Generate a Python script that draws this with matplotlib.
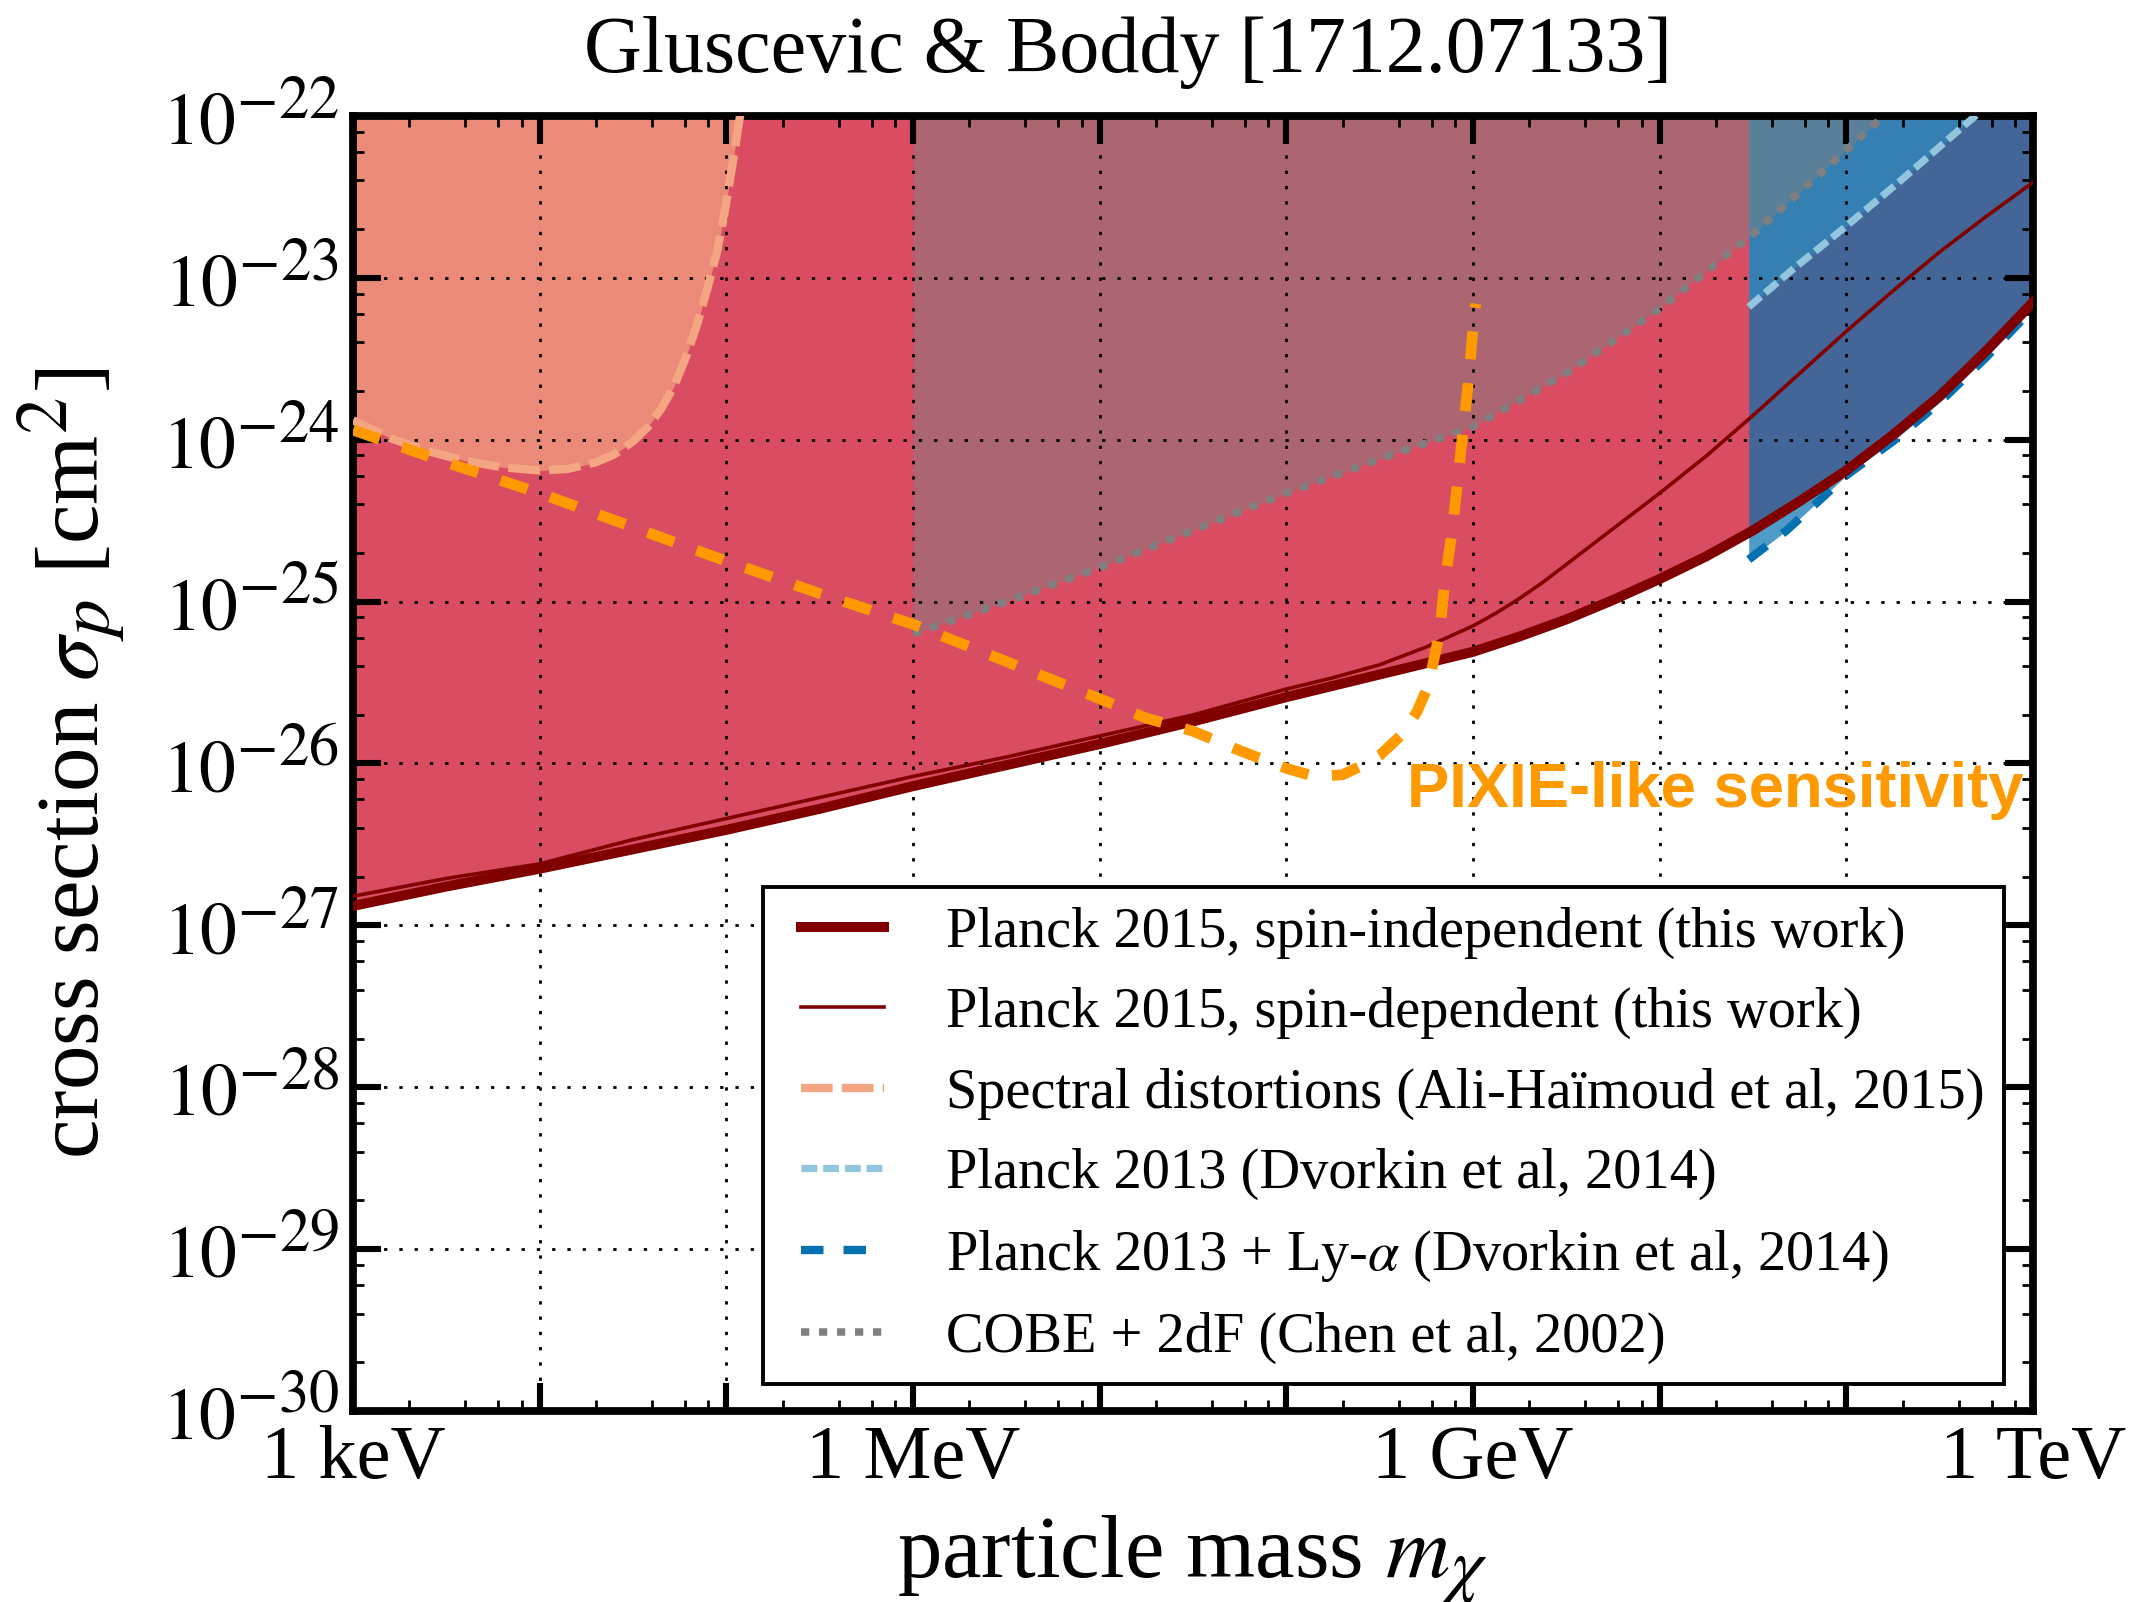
import numpy as np
import matplotlib
matplotlib.use("Agg")
import matplotlib.pyplot as plt
import matplotlib._mathtext as _mt
from matplotlib.lines import Line2D
from matplotlib.legend_handler import HandlerLine2D
from matplotlib.ticker import FixedLocator, FixedFormatter, LogLocator, NullFormatter

plt.rcParams['font.family'] = ['Liberation Serif', 'DejaVu Serif']
plt.rcParams['mathtext.fontset'] = 'stix'
# slightly larger sub/superscripts than the mathtext default
_mt.SHRINK_FACTOR = 0.82

# all curves: log10(m / GeV) vs log10(sigma_p / cm^2)

# Planck 2015, spin-independent
si_logm = [-6.0, -5.5, -5.0, -4.5, -4.0, -3.5, -3.0, -2.5, -2.0, -1.5, -1.0, -0.5,
           0.0, 0.25, 0.5, 0.75, 1.0, 1.25, 1.5, 1.75, 2.0, 2.25, 2.5, 2.75, 3.0]
si_logsig = [-26.88, -26.76, -26.65, -26.53, -26.41, -26.28, -26.14, -26.01, -25.88, -25.74,
             -25.59, -25.45, -25.31, -25.215, -25.11, -24.99, -24.86, -24.72, -24.56, -24.38,
             -24.19, -23.97, -23.73, -23.45, -23.15]

# Planck 2015, spin-dependent
sd_logm = [-6.0, -5.5, -5.0, -4.5, -4.0, -3.5, -3.0, -2.5, -2.0, -1.5, -1.0, -0.75, -0.5,
           -0.25, 0.0, 0.125, 0.25, 0.375, 0.5, 0.75, 1.0, 1.25, 1.5, 1.75, 2.0, 2.25, 2.5,
           2.75, 3.0]
sd_logsig = [-26.82, -26.71, -26.62, -26.47, -26.34, -26.21, -26.08, -25.96, -25.83, -25.70,
             -25.54, -25.47, -25.39, -25.28, -25.15, -25.07, -24.98, -24.88, -24.77, -24.55,
             -24.33, -24.10, -23.85, -23.59, -23.33, -23.08, -22.84, -22.62, -22.41]

# spectral distortions (Ali-Haimoud et al 2015)
spec_logm = [-6.0, -5.8, -5.6, -5.4, -5.2, -5.0, -4.85, -4.7, -4.6, -4.5, -4.42, -4.35,
             -4.28, -4.22, -4.16, -4.10, -4.05, -4.01, -3.97, -3.94, -3.92]
spec_logsig = [-23.88, -23.99, -24.07, -24.13, -24.17, -24.19, -24.18, -24.14, -24.09, -24.01,
               -23.92, -23.81, -23.67, -23.50, -23.30, -23.06, -22.84, -22.60, -22.32, -22.10, -21.95]

# Planck 2013 (Dvorkin et al 2014)
p13_logm = [1.477, 1.7, 2.0, 2.29, 2.65, 3.0]
p13_logsig = [-23.18, -22.96, -22.68, -22.40, -22.04, -21.70]

# Planck 2013 + Ly-alpha (Dvorkin et al 2014)
lya_logm = [1.477, 1.68, 1.87, 2.0, 2.25, 2.5, 2.75, 3.0]
lya_logsig = [-24.74, -24.56, -24.36, -24.22, -24.01, -23.77, -23.49, -23.19]

# COBE + 2dF (Chen et al 2002)
cobe_logm = [-3.0, -2.5, -2.0, -1.5, -1.0, -0.5, 0.0, 0.5, 1.0, 1.5, 2.0, 2.2]
cobe_logsig = [-25.20, -25.00, -24.79, -24.56, -24.33, -24.12, -23.92, -23.59, -23.19,
               -22.73, -22.21, -22.0]

# PIXIE-like sensitivity forecast
pixie_logm = [-6.0, -5.5, -5.0, -4.5, -4.0, -3.5, -3.0, -2.5, -2.0, -1.75, -1.5, -1.25,
              -1.0, -0.85, -0.7, -0.59, -0.5, -0.38, -0.3, -0.24, -0.18, -0.15, -0.11,
              -0.08, -0.05, -0.02, 0.005, 0.015]
pixie_logsig = [-23.94, -24.14, -24.33, -24.54, -24.75, -24.95, -25.14, -25.37, -25.60, -25.72,
                -25.80, -25.92, -26.03, -26.08, -26.07, -26.01, -25.95, -25.82, -25.68, -25.52,
                -25.20, -24.87, -24.55, -24.23, -23.91, -23.59, -23.24, -23.16]

x_ticklabels = ['1 keV', '', '', '1 MeV', '', '', '1 GeV', '', '', '1 TeV']
y_exponents = list(range(-30, -21))

c_red = '#ca0020'
c_salmon = '#f4a582'
c_lightblue = '#92c5de'
c_blue = '#0571b0'
c_maroon = '#800000'
c_orange = '#ff9900'


def p10(v):
    return 10.0 ** np.asarray(v)


fig = plt.figure(figsize=(10.745, 8.01), dpi=200)
ax = fig.add_axes([0.16426, 0.11923, 0.78176, 0.80836])
ax.set_xscale('log')
ax.set_yscale('log')
top = 1e-22

# excluded regions
ax.fill_between(p10(si_logm), p10(si_logsig), top, color=c_red, alpha=0.7, lw=0, zorder=1.0)
ax.fill_between(p10(spec_logm), p10(spec_logsig), top, color=c_salmon, alpha=0.7, lw=0, zorder=1.1)
ax.fill_between(p10(p13_logm), p10(p13_logsig), top, color=c_lightblue, alpha=0.7, lw=0, zorder=1.2)
ax.fill_between(p10(lya_logm), p10(lya_logsig), top, color=c_blue, alpha=0.7, lw=0, zorder=1.3)
ax.fill_between(p10(cobe_logm), p10(cobe_logsig), top, color='gray', alpha=0.5, lw=0, zorder=1.4)

# boundaries
h_si, = ax.plot(p10(si_logm), p10(si_logsig), color=c_maroon, lw=3.6, zorder=4,
                label='Planck 2015, spin-independent (this work)')
h_sd, = ax.plot(p10(sd_logm), p10(sd_logsig), color=c_maroon, lw=1.3, zorder=4,
                label='Planck 2015, spin-dependent (this work)')
h_spec, = ax.plot(p10(spec_logm), p10(spec_logsig), color=c_salmon, lw=3.0, dashes=(3.8, 1.1),
                  zorder=3, label='Spectral distortions (Ali-Haïmoud et al, 2015)')
h_p13, = ax.plot(p10(p13_logm), p10(p13_logsig), color=c_lightblue, lw=2.6, dashes=(2.2, 0.8),
                 zorder=3, label='Planck 2013 (Dvorkin et al, 2014)')
h_lya, = ax.plot(p10(lya_logm), p10(lya_logsig), color=c_blue, lw=3.0, dashes=(2.7, 2.4),
                 zorder=3, label=r'Planck 2013 + Ly-$\alpha$ (Dvorkin et al, 2014)')
h_cobe, = ax.plot(p10(cobe_logm), p10(cobe_logsig), color='gray', lw=2.7, dashes=(1.1, 1.3),
                  zorder=3, label='COBE + 2dF (Chen et al, 2002)')
ax.plot(p10(pixie_logm), p10(pixie_logsig), color=c_orange, lw=3.9, dashes=(2.6, 2.2), zorder=5)

ax.text(0.9946, 0.4664, 'PIXIE-like sensitivity', transform=ax.transAxes, ha='right',
        va='baseline', color=c_orange, fontsize=22.8, fontweight='bold',
        family=['Liberation Sans', 'DejaVu Sans'], zorder=6)

ax.set_xlim(1e-6, 1e3)
ax.set_ylim(1e-30, 1e-22)

ax.xaxis.set_major_locator(FixedLocator(p10(np.arange(-6, 4))))
ax.xaxis.set_major_formatter(FixedFormatter(x_ticklabels))
ax.yaxis.set_major_locator(FixedLocator(p10(y_exponents)))
ax.yaxis.set_major_formatter(FixedFormatter([r'$10^{%d}$' % e for e in y_exponents]))
for a in (ax.xaxis, ax.yaxis):
    a.set_minor_locator(LogLocator(base=10, subs=(2, 4, 6, 8), numticks=30))
    a.set_minor_formatter(NullFormatter())

ax.tick_params(which='major', direction='in', length=10, width=2.2, top=True, right=True)
ax.tick_params(which='minor', direction='in', length=4, width=1.0, top=True, right=True)
ax.tick_params(axis='x', which='major', labelsize=27.5, pad=5)
ax.tick_params(axis='y', which='major', labelsize=26.5, pad=5)
for sp in ax.spines.values():
    sp.set_linewidth(2.8)

ax.grid(True, which='major', color='k', lw=1.0, linestyle=(0, (1.2, 4.3)))

ax.set_xlabel(r'particle mass $m_\chi$', fontsize=32)
ax.xaxis.set_label_coords(0.5, -0.079)
ax.set_ylabel(r'cross section $\sigma_p$ [cm$^2$]', fontsize=32)
ax.yaxis.set_label_coords(-0.134, 0.5)

fig.text(0.525, 1 - 71.7 / 1602, 'Gluscevic & Boddy [1712.07133]', ha='center', va='baseline',
         fontsize=28.8)

leg = ax.legend(handles=[h_si, h_sd, h_spec, h_p13, h_lya, h_cobe], loc='lower right',
                bbox_to_anchor=(0.983, 0.021), borderaxespad=0, fontsize=20.3,
                fancybox=False, framealpha=1, edgecolor='k', handlelength=1.8,
                handletextpad=1.1, borderpad=0.35, labelspacing=0.5,
                handler_map={Line2D: HandlerLine2D(xpad=0.32)})
leg.get_frame().set_linewidth(1.4)
leg.set_zorder(10)

fig.savefig('out.png', dpi=200)
